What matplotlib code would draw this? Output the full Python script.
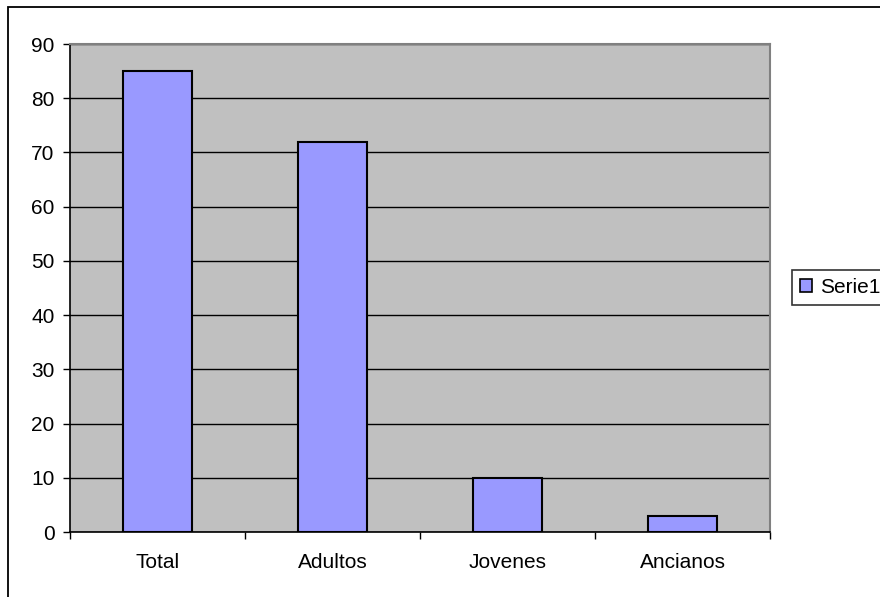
import matplotlib
matplotlib.use("Agg")
import matplotlib.pyplot as plt
from matplotlib.patches import Rectangle, Patch
import numpy as np

plt.rcParams['font.family'] = ['Liberation Sans', 'DejaVu Sans']

categories = ["Total", "Adultos", "Jovenes", "Ancianos"]
values = [85, 72, 10, 3]
series_name = "Serie1"
y_ticks = [0, 10, 20, 30, 40, 50, 60, 70, 80, 90]

W, H = 880, 597
FS = 15
fig = plt.figure(figsize=(W / 100, H / 100), dpi=100)

# outer chart frame (only the left and top edges fall inside the image)
fig.patches.append(Rectangle((8 / W, -0.1), 1.2, 1 - 7 / H + 0.1,
                             transform=fig.transFigure, fill=False,
                             edgecolor="black", linewidth=1.3, zorder=0))

ax = fig.add_axes([70 / W, (H - 532) / H, 700 / W, 488 / H])
ax.set_facecolor("#C0C0C0")

x = np.arange(len(categories))
ax.bar(x, values, width=0.395, color="#9999FF", edgecolor="black",
       linewidth=1.5, zorder=3)

ax.set_xlim(-0.5, len(categories) - 0.5)
ax.set_ylim(0, 90)
ax.set_yticks(y_ticks)
ax.yaxis.grid(True, color="black", linewidth=1.0, zorder=1)
ax.set_axisbelow(True)

ax.set_xticks(x)
ax.set_xticklabels(categories)
ax.set_xticks(np.arange(len(categories) + 1) - 0.5, minor=True)
ax.tick_params(axis="x", which="major", length=0, pad=15, labelsize=FS)
ax.tick_params(axis="x", which="minor", length=5, width=1, direction="out")
ax.tick_params(axis="y", length=5, width=1, direction="out", pad=6,
               labelsize=FS)

for side in ("top", "right"):
    ax.spines[side].set_color("#808080")
    ax.spines[side].set_linewidth(1.5)
for side in ("left", "bottom"):
    ax.spines[side].set_color("black")
    ax.spines[side].set_linewidth(1.2)

handle = Patch(facecolor="#9999FF", edgecolor="black", linewidth=1.2)
leg = fig.legend([handle], [series_name], loc="center left",
                 bbox_to_anchor=(792 / W, 1 - 287.5 / H), fontsize=FS,
                 frameon=True, fancybox=False, handlelength=0.55,
                 handleheight=0.55, handletextpad=0.4, borderpad=0.4,
                 borderaxespad=0)
leg.get_frame().set_edgecolor("black")
leg.get_frame().set_linewidth(1.2)

fig.savefig("out.png", dpi=100)
